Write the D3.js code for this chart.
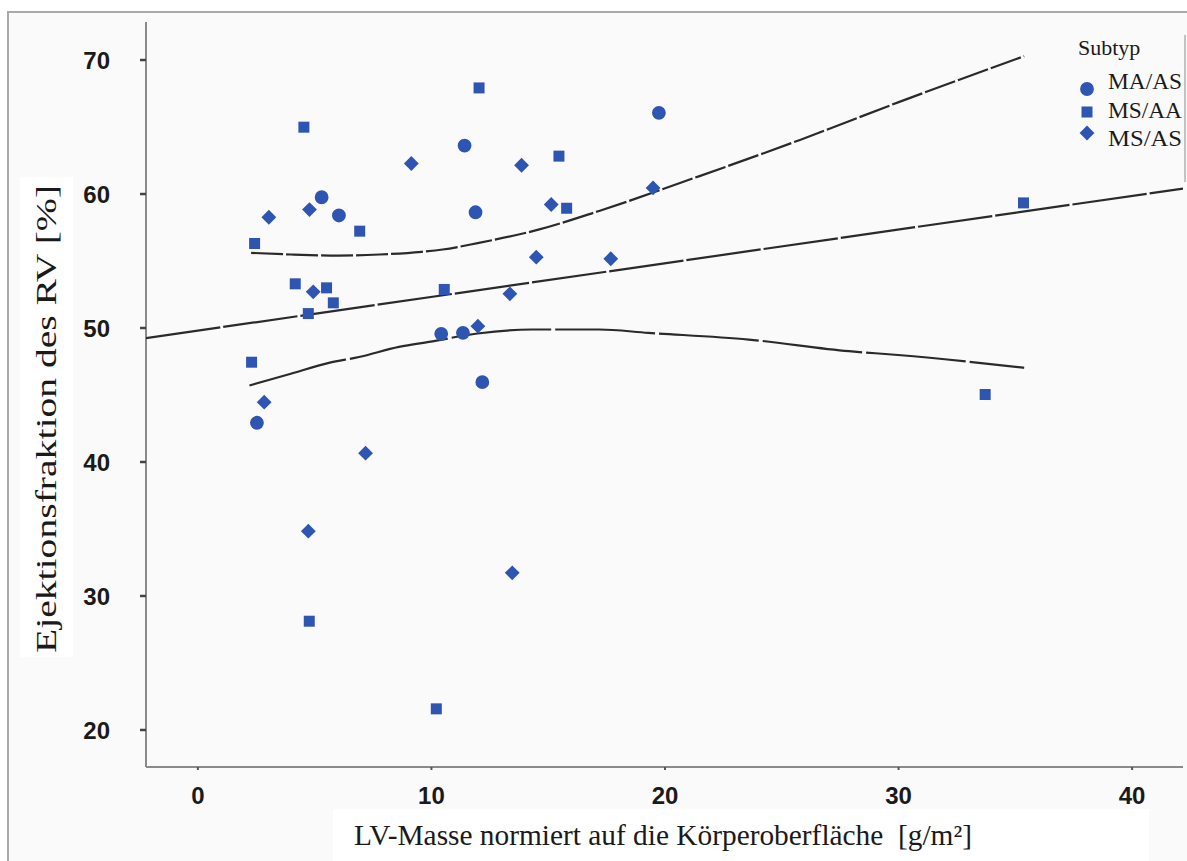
<!DOCTYPE html>
<html>
<head>
<meta charset="utf-8">
<script src="https://cdn.jsdelivr.net/npm/d3@7"></script>
<style>
  html, body { margin: 0; padding: 0; background: #ffffff; }
  svg { display: block; }
</style>
</head>
<body>
<script>
// ---------- data ----------
const subtypes = ["MA/AS", "MS/AA", "MS/AS"];
const xTicks = [0, 10, 20, 30, 40];
const yTicks = [20, 30, 40, 50, 60, 70];

// MA/AS (circles)
const maasX = [5.32, 6.06, 11.44, 10.44, 11.37, 12.20, 2.55, 11.91, 19.76];
const maasY = [59.72, 58.36, 63.58, 49.53, 49.60, 45.92, 42.89, 58.60, 66.02];
// MS/AA (squares)
const msaaX = [4.56, 6.95, 2.45, 4.19, 5.53, 5.82, 4.75, 2.32, 4.79, 12.06, 15.48, 15.81, 10.57, 35.37, 33.73, 10.23];
const msaaY = [64.95, 57.19, 56.27, 53.26, 52.96, 51.84, 51.04, 47.41, 28.08, 67.88, 62.79, 58.90, 52.84, 59.30, 45.00, 21.54];
// MS/AS (diamonds)
const msasX = [9.16, 4.80, 3.06, 4.96, 2.86, 7.20, 4.75, 13.88, 15.15, 14.51, 17.70, 13.38, 12.01, 19.51, 13.48];
const msasY = [62.24, 58.80, 58.23, 52.66, 44.43, 40.62, 34.80, 62.11, 59.18, 55.25, 55.13, 52.51, 50.10, 60.42, 31.69];

// fit line and confidence band
const fitX = [-2.2, 42.2];
const fitY = [49.21, 60.37];
const upperX = [2.3, 4.0, 6.06, 7.8, 9.6, 10.5, 12.0, 14.6, 17.2, 21.5, 25.8, 30.0, 35.4];
const upperY = [55.57, 55.45, 55.37, 55.45, 55.65, 55.82, 56.30, 57.30, 58.70, 61.30, 64.00, 66.80, 70.25];
const lowerX = [2.23, 4.0, 5.63, 6.92, 8.63, 10.0, 12.0, 14.3, 17.2, 19.3, 23.6, 27.9, 30.0, 35.4];
const lowerY = [45.67, 46.55, 47.36, 47.80, 48.55, 48.95, 49.55, 49.85, 49.85, 49.60, 49.10, 48.23, 47.95, 46.99];

// ---------- layout ----------
const W = 1187, H = 861;
const plot = { left: 146, right: 1183, top: 22, bottom: 767 };
const blue = "#2f55b3";

const svg = d3.select("body").append("svg").attr("width", W).attr("height", H);

// outer frame
svg.append("rect").attr("x", 8).attr("y", 12).attr("width", W + 10).attr("height", H + 10)
  .attr("fill", "#fafafa").attr("stroke", "#a9a9a9").attr("stroke-width", 2);

// white boxes behind axis titles
svg.append("rect").attr("x", 20).attr("y", 177).attr("width", 53).attr("height", 480).attr("fill", "#ffffff");
svg.append("rect").attr("x", 333).attr("y", 809).attr("width", 816).attr("height", 60).attr("fill", "#ffffff");

const x = d3.scaleLinear().domain([-2.2, 42.2]).range([plot.left, plot.right]);
const y = d3.scaleLinear().domain([17.2, 72.8]).range([plot.bottom, plot.top]);

// clip
svg.append("clipPath").attr("id", "clip").append("rect")
  .attr("x", plot.left).attr("y", plot.top).attr("width", plot.right - plot.left).attr("height", plot.bottom - plot.top);

// axes
const yAxis = d3.axisLeft(y).tickValues(yTicks).tickSize(6).tickPadding(30);
const gy = svg.append("g").attr("transform", `translate(${plot.left},0)`).call(yAxis);
gy.select(".domain").attr("stroke", "#8a8a8a").attr("stroke-width", 2)
  .attr("d", `M0,${plot.top}V${plot.bottom}`);
gy.selectAll(".tick line").attr("stroke", "#444").attr("stroke-width", 2.5);
gy.selectAll(".tick text").attr("font-family", "'Liberation Sans', Arial, sans-serif")
  .attr("font-weight", "bold").attr("font-size", 24).attr("fill", "#1a1a1a").attr("dy", "0.36em");

const xAxis = d3.axisBottom(x).tickValues(xTicks).tickSize(3).tickPadding(17);
const gx = svg.append("g").attr("transform", `translate(0,${plot.bottom})`).call(xAxis);
gx.select(".domain").attr("stroke", "#8a8a8a").attr("stroke-width", 2)
  .attr("d", `M${plot.left},0H${plot.right}`);
gx.selectAll(".tick line").attr("stroke", "#555").attr("stroke-width", 2);
gx.selectAll(".tick text").attr("font-family", "'Liberation Sans', Arial, sans-serif")
  .attr("font-weight", "bold").attr("font-size", 24).attr("fill", "#1a1a1a").attr("dy", "0.71em");

// partial right frame line
svg.append("line").attr("x1", 1185).attr("x2", 1185).attr("y1", 35).attr("y2", 182)
  .attr("stroke", "#b0b0b0").attr("stroke-width", 1.5);

// lines
const lineGen = d3.line().x(d => x(d[0])).y(d => y(d[1])).curve(d3.curveMonotoneX);
const zip = (a, b) => a.map((v, i) => [v, b[i]]);
const lines = svg.append("g").attr("clip-path", "url(#clip)").attr("fill", "none")
  .attr("stroke", "#2a2a2a").attr("stroke-width", 2.2);
lines.append("path").attr("d", lineGen(zip(fitX, fitY))).attr("stroke-dasharray", "75,3");
lines.append("path").attr("d", lineGen(zip(upperX, upperY))).attr("stroke-dasharray", "32,3");
lines.append("path").attr("d", lineGen(zip(lowerX, lowerY))).attr("stroke-dasharray", "100,4");

// markers
const circleSym = d3.symbol().type(d3.symbolCircle).size(150);
const squareSym = d3.symbol().type(d3.symbolSquare).size(121);
const diamondSym = d3.symbol().type(d3.symbolSquare).size(110);

const pts = svg.append("g").attr("fill", blue);
pts.selectAll(".c").data(zip(maasX, maasY)).join("path")
  .attr("d", circleSym).attr("transform", d => `translate(${x(d[0])},${y(d[1])})`);
pts.selectAll(".s").data(zip(msaaX, msaaY)).join("path")
  .attr("d", squareSym).attr("transform", d => `translate(${x(d[0])},${y(d[1])})`);
pts.selectAll(".d").data(zip(msasX, msasY)).join("path")
  .attr("d", diamondSym).attr("transform", d => `translate(${x(d[0])},${y(d[1])}) rotate(45)`);

// axis titles
svg.append("text").attr("x", 663).attr("y", 845).attr("text-anchor", "middle")
  .attr("font-family", "'Liberation Serif', 'Times New Roman', serif").attr("font-size", 29).attr("fill", "#1a1a1a")
  .attr("textLength", 618).attr("lengthAdjust", "spacingAndGlyphs")
  .text("LV-Masse normiert auf die Körperoberfläche\u00a0\u00a0[g/m²]");
svg.append("text").attr("transform", "translate(56,419) rotate(-90)").attr("text-anchor", "middle")
  .attr("font-family", "'Liberation Serif', 'Times New Roman', serif").attr("font-size", 30).attr("fill", "#1a1a1a")
  .attr("textLength", 468).attr("lengthAdjust", "spacingAndGlyphs")
  .text("Ejektionsfraktion des RV [%]");

// legend
const lg = svg.append("g").attr("font-family", "'Liberation Serif', 'Times New Roman', serif").attr("fill", "#1a1a1a");
lg.append("text").attr("x", 1078).attr("y", 55).attr("font-size", 22).text("Subtyp");
const legSyms = [circleSym, squareSym, diamondSym];
const legRot = [0, 0, 45];
const legMarkY = [89, 112, 133];
const legTextY = [89, 118, 146];
subtypes.forEach((s, i) => {
  lg.append("path").attr("d", legSyms[i]).attr("fill", blue)
    .attr("transform", `translate(1087,${legMarkY[i]}) rotate(${legRot[i]})`);
  lg.append("text").attr("x", 1108).attr("y", legTextY[i]).attr("font-size", 24)
    .attr("textLength", 74).attr("lengthAdjust", "spacingAndGlyphs").text(s);
});
</script>
</body>
</html>
